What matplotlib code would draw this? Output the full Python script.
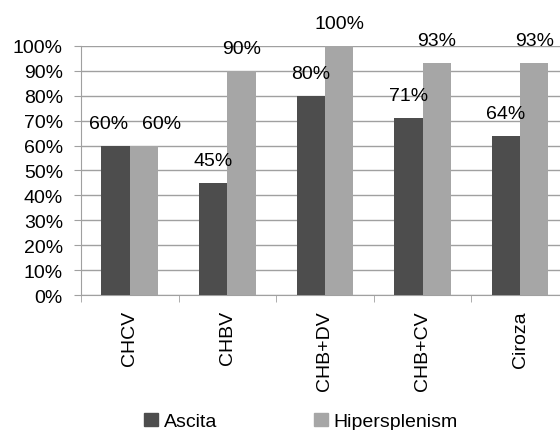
import numpy as np
import matplotlib.pyplot as plt
from matplotlib.patches import Patch

plt.rcParams['font.family'] = ['Liberation Sans', 'DejaVu Sans']

categories = ['CHCV', 'CHBV', 'CHB+DV', 'CHB+CV', 'Ciroza']
ascita = [60, 45, 80, 71, 64]
hipersplenism = [60, 90, 100, 93, 93]
series_names = ['Ascita', 'Hipersplenism']

dark = '#4d4d4d'
light = '#a6a6a6'
grid_col = '#a0a0a0'

fig = plt.figure(figsize=(5.6, 4.31), dpi=100)
ax = fig.add_axes([0.1446, 0.3132, 0.8714, 0.578])

x = np.arange(len(categories))
w = 0.29
b1 = ax.bar(x - w / 2, ascita, w, color=dark, zorder=3)
b2 = ax.bar(x + w / 2, hipersplenism, w, color=light, zorder=3)

# value labels; the first pair is pushed apart so they don't collide
shift1 = [-5, 0, 0, 0, 0]
shift2 = [13, 0, 0, 0, 0]
for bars, vals, sh in [(b1, ascita, shift1), (b2, hipersplenism, shift2)]:
    for bar, v, s in zip(bars, vals, sh):
        ax.annotate(f'{v}%', (bar.get_x() + bar.get_width() / 2, v),
                    xytext=(s, 10), textcoords='offset points',
                    ha='center', va='bottom', fontsize=14, color='black',
                    annotation_clip=False)

ax.set_ylim(0, 100)
ax.set_xlim(-0.5, len(categories) - 0.5)
ax.set_yticks(range(0, 101, 10))
ax.set_yticklabels([f'{t}%' for t in range(0, 101, 10)], fontsize=14)
ax.yaxis.grid(True, color=grid_col, linewidth=1, zorder=0)

ax.set_xticks(x)
ax.set_xticklabels(categories, rotation=90, fontsize=14)
ax.set_xticks(np.arange(-0.5, len(categories)), minor=True)
ax.tick_params(axis='x', which='major', length=0, pad=11)
ax.tick_params(axis='x', which='minor', length=5, color=grid_col)
ax.tick_params(axis='y', length=5, color=grid_col, pad=8)

for side in ['top', 'right']:
    ax.spines[side].set_visible(False)
ax.spines['left'].set_color(grid_col)
ax.spines['bottom'].set_color(grid_col)

handles = [Patch(color=dark), Patch(color=light)]
fig.legend(handles, series_names, loc='center', bbox_to_anchor=(0.5375, 0.02),
           ncol=2, frameon=False, fontsize=14, handlelength=0.7, handleheight=0.7,
           handletextpad=0.3, columnspacing=5)

fig.savefig('out.png', dpi=100)
